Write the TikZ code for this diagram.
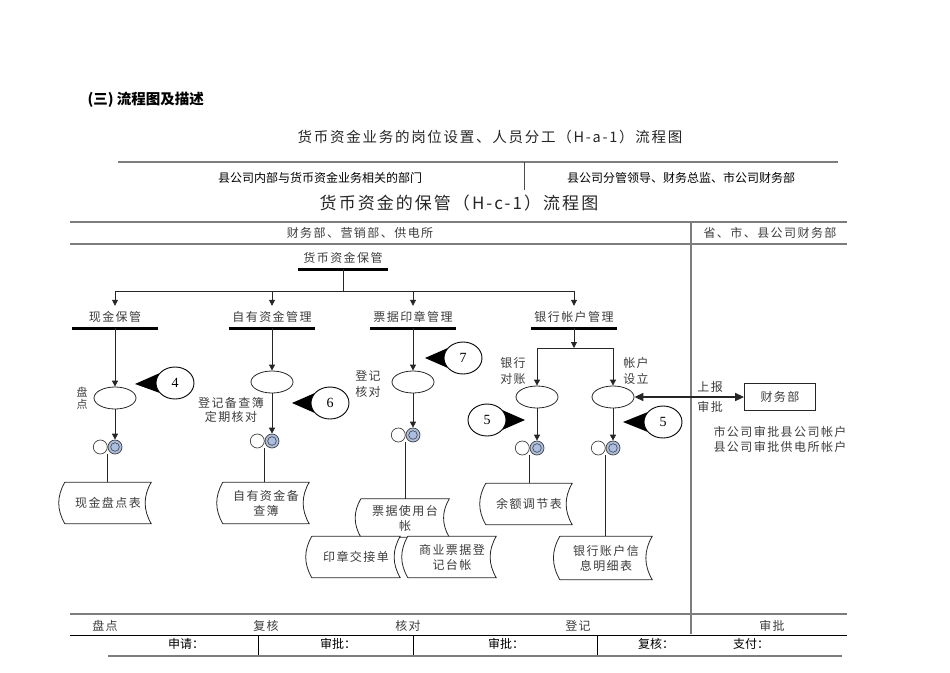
\documentclass[tikz,border=0pt]{standalone}
\usepackage{fontspec}
\setmainfont{Noto Sans CJK SC}
\newfontfamily\cjkwide[LetterSpace=12]{Noto Sans CJK SC}
\newfontfamily\numfont{Liberation Serif}
\usetikzlibrary{positioning,arrows.meta,calc,shapes.geometric,backgrounds}
\definecolor{inkgray}{RGB}{60,60,60}
\definecolor{rulegray}{RGB}{125,125,125}
\definecolor{dotblue}{RGB}{172,190,224}
\tikzset{
  lbl/.style={font=\cjkwide\fontsize{12}{15}\selectfont,text=inkgray,align=center,inner sep=0pt},
  ttl/.style={lbl,minimum width=86pt,minimum height=22pt},
  bar/.style={line width=2.6pt},
  flow/.style={line width=0.8pt,draw=black!85},
  arr/.style={flow,-{Triangle[length=6pt,width=6pt]}},
  oval/.style={ellipse,flow,minimum width=42pt,minimum height=22pt,inner sep=0pt},
  tag/.style={ellipse,draw,fill=white,line width=0.9pt,minimum width=38pt,minimum height=32pt,
    inner sep=0pt,font=\numfont\fontsize{14}{14}\selectfont},
  ring/.style={circle,draw=black!75,line width=0.7pt,minimum size=14pt,inner sep=0pt},
  dot/.style={ring,fill=dotblue,path picture={
    \draw[black!75,line width=0.6pt] (path picture bounding box.center) circle (4.3pt);}},
  doc/.style={lbl,minimum width=86pt,minimum height=41pt},
  docline/.style={draw=black!85,fill=white,line width=0.8pt},
  rule/.style={rulegray,line width=1.4pt},
  thinrule/.style={black,line width=0.9pt},
}

\begin{document}
\begin{tikzpicture}[x=1pt,y=-1pt]
  \useasboundingbox (0,0) rectangle (950,672);
  % headings
  \node[anchor=west,font=\bfseries\fontsize{14.5}{15}\selectfont] (sec) at (84,100) {(三) 流程图及描述};
  \node[font=\cjkwide\fontsize{14.5}{15}\selectfont,text=black!85] (t1) at (490,137)
    {货币资金业务的岗位设置、人员分工（H-a-1）流程图};
  \draw[rule] (118,162) -- (838,162);
  \draw[black!70,line width=1pt] (524,162) -- (524,190);
  \node[font=\fontsize{12}{12}\selectfont] (s1) at (320,178) {县公司内部与货币资金业务相关的部门};
  \node[font=\fontsize{12}{12}\selectfont] (s2) at (681,178) {县公司分管领导、财务总监、市公司财务部};
  \node[font=\cjkwide\fontsize{17}{17}\selectfont,text=black!85] (t2) at (459,203)
    {货币资金的保管（H-c-1）流程图};

  % lanes
  \draw[rule] (70,222) -- (847,222);
  \draw[rule] (70,244) -- (847,244);
  \draw[rule] (691,222) -- (691,634);
  \node[lbl] (lane1) at (360,233) {财务部、营销部、供电所};
  \node[lbl] (lane2) at (770,233) {省、市、县公司财务部};

  % branches
  \node[ttl,minimum width=89pt] (root) at (343,258) {货币资金保管};
  \coordinate (hub) at (343,291);
  \node[ttl] (k1) at (115,317) {现金保管};
  \node[ttl] (k2) at (272,317) {自有资金管理};
  \node[ttl] (k3) at (413,317) {票据印章管理};
  \node[ttl] (k4) at (574,317) {银行帐户管理};
  \foreach \k in {root,k1,k2,k3,k4} \draw[bar] (\k.south west) -- (\k.south east);
  \draw[flow] (root.south) -- (hub);
  \foreach \k in {k1,k2,k3,k4} \draw[arr] (hub) -| (\k.north);

  % steps
  \node[oval] (e1) at (115,398) {};
  \node[oval] (e2) at (272,382) {};
  \node[oval] (e3) at (413,382) {};
  \node[oval] (e4a) at (537,397) {};
  \node[oval] (e4b) at (613,397) {};
  \coordinate (split) at (574,348);
  \foreach \k/\e in {k1/e1,k2/e2,k3/e3} \draw[arr] (\k.south) -- (\e.north);
  \draw[arr] (k4.south) -- (split);
  \draw[arr] (split) -| (e4a.north);
  \draw[arr] (split) -| (e4b.north);

  \node[lbl,font=\cjkwide\fontsize{11}{12}\selectfont] (l1) at (82,398) {盘\\点};
  \node[lbl,font=\cjkwide\fontsize{12}{14}\selectfont] (l2) at (231,410) {登记备查簿\\定期核对};
  \node[lbl,font=\cjkwide\fontsize{12}{16}\selectfont] (l3) at (368,384) {登记\\核对};
  \node[lbl,font=\cjkwide\fontsize{12}{16}\selectfont] (l4a) at (513,371) {银行\\对账};
  \node[lbl,font=\cjkwide\fontsize{12}{16}\selectfont] (l4b) at (636,371) {帐户\\设立};

  % control points
  \node[tag] (c4) at (175,383) {4};
  \coordinate (p4) at (135,384);
  \node[tag] (c6) at (330,403) {6};
  \coordinate (p6) at (292,403);
  \node[tag] (c7) at (463,358) {7};
  \coordinate (p7) at (425,358);
  \node[tag] (c5a) at (487,420) {5};
  \coordinate (p5a) at (525,420);
  \node[tag] (c5b) at (663,422) {5};
  \coordinate (p5b) at (623,422);

  % records
  \foreach \n/\x/\y in {1/115/447,2/272/441,3/413/435,4a/537/448,4b/613/448}{
    \node[dot] (b\n) at (\x,\y) {};
    \node[ring,left=0pt of b\n] (a\n) {};
  }
  \foreach \e/\b in {e1/b1,e2/b2,e3/b3,e4a/b4a,e4b/b4b} \draw[arr] (\e.south) -- (\b.north);

  \node[doc] (d1) at (108,503) {现金盘点表};
  \node[doc] (d2) at (266,503) {自有资金备\\查簿};
  \node[doc,minimum height=38pt,minimum width=88pt] (d3) at (405,518) {票据使用台\\帐};
  \node[doc,minimum width=88pt] (d3a) at (356,557) {印章交接单};
  \node[doc,minimum width=88pt] (d3b) at (452,557) {商业票据登\\记台帐};
  \node[doc] (d4a) at (529,504) {余额调节表};
  \node[doc,minimum width=92pt,minimum height=43pt] (d4b) at (606,558) {银行账户信\\息明细表};
  \foreach \a/\d in {a1/d1,a2/d2,a3/d3,a4a/d4a,a4b/d4b}
    \draw[flow] (\a.east |- \a.south) -- (\a.east |- \d.north);

  \begin{scope}[on background layer]
    \foreach \d in {d1,d2,d4a,d4b,d3,d3a,d3b}
      \path[docline] (\d.north west) -- (\d.north east) to[bend right=30] (\d.south east)
        -- (\d.south west) to[bend left=30] (\d.north west) -- cycle;
    \foreach \c/\p/\u/\v in {c4/p4/148/212,c6/p6/148/212,c7/p7/148/212,c5a/p5a/32/-32,c5b/p5b/148/212}
      \fill (\p) -- (\c.\u) -- (\c.\v) -- cycle;
  \end{scope}

  % approval
  \node[draw=black!85,line width=0.8pt,lbl,minimum width=71pt,minimum height=27pt] (fin) at (780,397) {财务部};
  \draw[flow,line width=1.6pt,{Triangle[length=9pt,width=8pt]}-{Triangle[length=9pt,width=8pt]}]
    (e4b.east) -- (fin.west)
    node[lbl,pos=0.69,above=4pt] (up) {上报}
    node[lbl,pos=0.69,below=4pt] (ok) {审批};
  \node[lbl] (note) at (780,439) {市公司审批县公司帐户\\县公司审批供电所帐户};

  % footer
  \draw[rule] (70,614) -- (847,614);
  \foreach \x/\t [count=\i] in {105/盘点,266/复核,408/核对,578/登记,772/审批}
    \node[lbl] (f\i) at (\x,626) {\t};
  \draw[thinrule] (70,635) -- (847,635);
  \foreach \x/\t [count=\i] in {186/申请：,338/审批：,506/审批：,656/复核：,751/支付：}
    \node[font=\fontsize{12}{12}\selectfont] (g\i) at (\x,644) {\t};
  \foreach \x in {258,413,597} \draw[thinrule] (\x,635) -- (\x,655);
  \draw[rule] (108,656) -- (842,656);
\end{tikzpicture}
\end{document}
